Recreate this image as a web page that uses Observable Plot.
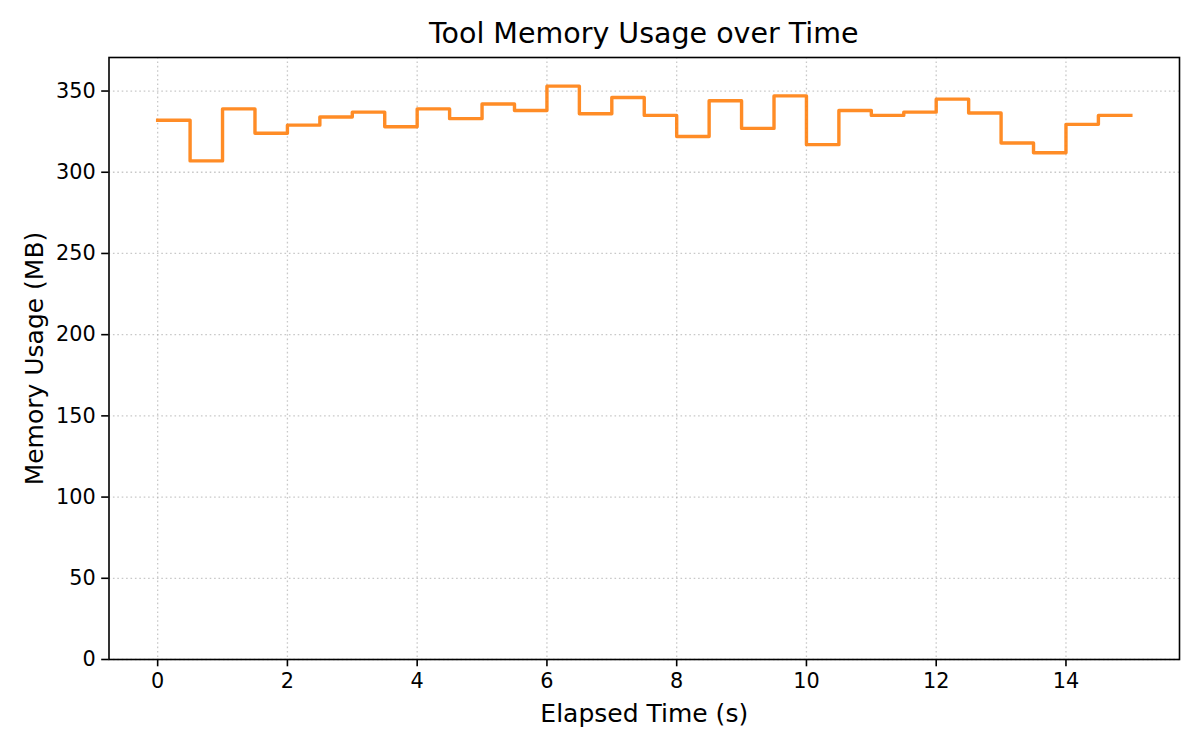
<!DOCTYPE html>
<html>
<head>
<meta charset="utf-8">
<script src="https://cdn.jsdelivr.net/npm/d3@7"></script>
<script src="https://cdn.jsdelivr.net/npm/@observablehq/plot@0.6"></script>
<style>
  html, body { margin: 0; padding: 0; background: #fff; }
  body { width: 1200px; height: 750px; overflow: hidden; font-family: "DejaVu Sans", sans-serif; }
  #title { position: relative; height: 50px; width: 1200px; }
  #title span { position: absolute; top: 20px; left: 108.5px; width: 1070.5px; text-align: center;
    font-family: "DejaVu Sans", sans-serif; font-size: 28.5px; line-height: 1; color: #000; white-space: nowrap; }
</style>
</head>
<body>
<div id="title"><span>Tool Memory Usage over Time</span></div>
<div id="chart"></div>
<script>
const times = [0, 0.5, 1, 1.5, 2, 2.5, 3, 3.5, 4, 4.5, 5, 5.5, 6, 6.5, 7, 7.5,
               8, 8.5, 9, 9.5, 10, 10.5, 11, 11.5, 12, 12.5, 13, 13.5, 14, 14.5, 15];
const memory = [332, 307, 339, 324, 329, 334, 337, 328, 339, 333, 342, 338, 353, 336, 346, 335,
                322, 344, 327, 347, 317, 338, 335, 337, 345, 336.5, 318, 312, 329.5, 335, 335];
const xTicks = [0, 2, 4, 6, 8, 10, 12, 14];
const yTicks = [0, 50, 100, 150, 200, 250, 300, 350];
const xLabel = "Elapsed Time (s)";
const yLabel = "Memory Usage (MB)";

const data = times.map((t, i) => ({t, m: memory[i]}));
const yMax = d3.max(memory) * 1.05;

const gridStyle = {stroke: "#b0b0b0", strokeOpacity: 0.7, strokeWidth: 1.3, strokeDasharray: "1.6,2.8"};

const chart = Plot.plot({
  width: 1200,
  height: 700,
  marginLeft: 108.5,
  marginRight: 21,
  marginTop: 7,
  marginBottom: 91,
  style: {fontFamily: "DejaVu Sans, sans-serif", background: "#fff", color: "#000"},
  x: {domain: [-0.75, 15.75]},
  y: {domain: [0, yMax]},
  marks: [
    Plot.gridX(xTicks, gridStyle),
    Plot.gridY(yTicks, gridStyle),
    Plot.line(data, {x: "t", y: "m", curve: "step-after", stroke: "#ff7f0e", strokeOpacity: 0.9,
      strokeWidth: 3.4, strokeLinejoin: "round", strokeLinecap: "square"}),
    Plot.frame({stroke: "#000", strokeWidth: 1.6}),
    Plot.axisX(xTicks, {tickSize: 7.3, tickPadding: 6, fontSize: 20.8, strokeWidth: 1.6, label: null, tickFormat: d => String(d)}),
    Plot.axisY(yTicks, {tickSize: 7.3, tickPadding: 6, fontSize: 20.8, strokeWidth: 1.6, label: null, tickFormat: d => String(d)}),
    Plot.text([xLabel], {frameAnchor: "bottom", dy: 62, lineAnchor: "bottom", textAnchor: "middle", fontSize: 25, fill: "#000"}),
    Plot.text([yLabel], {frameAnchor: "left", dx: -66, rotate: -90, lineAnchor: "bottom", textAnchor: "middle", fontSize: 25, fill: "#000"})
  ]
});
document.getElementById("chart").appendChild(chart);
</script>
</body>
</html>
